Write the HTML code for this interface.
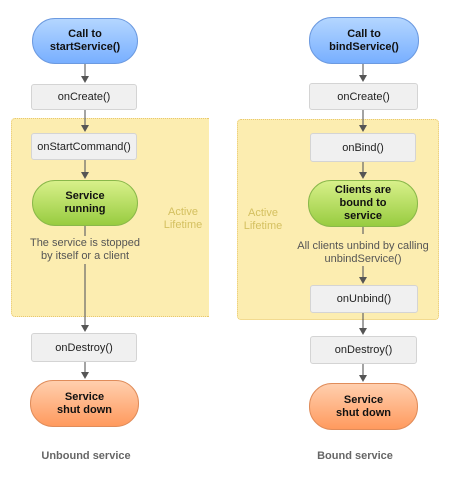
<!DOCTYPE html>
<html><head><style>
body{margin:0;width:452px;height:482px;background:#fff;position:relative;overflow:hidden;font-family:"Liberation Sans",sans-serif;}
.a{position:absolute;box-sizing:border-box;}
.box{background:#f0f0f0;border:1px solid #d4d4d4;border-radius:3px;font-size:11px;color:#222;display:flex;align-items:center;justify-content:center;}
.pill{border-radius:23px;font-size:11px;font-weight:bold;color:#111;display:flex;align-items:center;justify-content:center;text-align:center;line-height:13px;}
.blue{background:linear-gradient(#b4d6ff,#78afff);border:1px solid #6c9ae0;}
.green{background:linear-gradient(#d8f08a,#98cc40);border:1px solid #8ab84a;}
.orange{background:linear-gradient(#ffcfae,#ff9a5e);border:1px solid #e08c5a;}
.yel{background:#fcedb0;border:1px dotted #e8c870;border-radius:4px;}
.lbl{font-size:11px;color:#555;text-align:center;line-height:13px;}
.act{font-size:11px;color:#d4c060;text-align:center;line-height:13px;}
.cap{font-size:11px;font-weight:bold;color:#666;}
</style></head><body>
<div class="a yel" style="left:11px;top:118px;width:198px;height:199px;border-right:none;border-top-right-radius:0;border-bottom-right-radius:0"></div>
<div class="a yel" style="left:237px;top:119px;width:202px;height:201px"></div>
<svg class="a" style="left:0;top:0" width="452" height="482">
<defs><marker id="m" markerWidth="8" markerHeight="8" refX="4" refY="6" orient="auto" markerUnits="userSpaceOnUse"><path d="M0,0 L8,0 L4,7 z" transform="rotate(-90 4 4)" fill="#555"/></marker></defs>
<g stroke="#666" stroke-width="1.2" fill="#555">
<line x1="85" y1="64" x2="85" y2="78"/><path d="M81,76 L89,76 L85,83 z" stroke="none"/>
<line x1="85" y1="110" x2="85" y2="127"/><path d="M81,125 L89,125 L85,132 z" stroke="none"/>
<line x1="85" y1="160" x2="85" y2="174"/><path d="M81,172 L89,172 L85,179 z" stroke="none"/>
<line x1="85" y1="226" x2="85" y2="236"/>
<line x1="85" y1="264" x2="85" y2="327"/><path d="M81,325 L89,325 L85,332 z" stroke="none"/>
<line x1="85" y1="362" x2="85" y2="374"/><path d="M81,372 L89,372 L85,379 z" stroke="none"/>
<line x1="363" y1="64" x2="363" y2="77"/><path d="M359,75 L367,75 L363,82 z" stroke="none"/>
<line x1="363" y1="110" x2="363" y2="127"/><path d="M359,125 L367,125 L363,132 z" stroke="none"/>
<line x1="363" y1="162" x2="363" y2="174"/><path d="M359,172 L367,172 L363,179 z" stroke="none"/>
<line x1="363" y1="227" x2="363" y2="234"/>
<line x1="363" y1="266" x2="363" y2="279"/><path d="M359,277 L367,277 L363,284 z" stroke="none"/>
<line x1="363" y1="313" x2="363" y2="330"/><path d="M359,328 L367,328 L363,335 z" stroke="none"/>
<line x1="363" y1="364" x2="363" y2="377"/><path d="M359,375 L367,375 L363,382 z" stroke="none"/>
</g></svg>
<div class="a pill blue" style="left:32px;top:18px;width:106px;height:46px">Call to<br>startService()</div>
<div class="a box" style="left:31px;top:84px;width:106px;height:26px">onCreate()</div>
<div class="a box" style="left:31px;top:133px;width:106px;height:27px">onStartCommand()</div>
<div class="a pill green" style="left:32px;top:180px;width:106px;height:46px">Service<br>running</div>
<div class="a act" style="left:158px;top:206px;width:50px">Active<br>Lifetime</div>
<div class="a lbl" style="left:15px;top:237px;width:140px">The service is stopped<br>by itself or a client</div>
<div class="a box" style="left:31px;top:333px;width:106px;height:29px">onDestroy()</div>
<div class="a pill orange" style="left:30px;top:380px;width:109px;height:47px">Service<br>shut down</div>
<div class="a cap" style="left:36px;top:450px;width:100px;text-align:center">Unbound service</div>

<div class="a pill blue" style="left:309px;top:17px;width:110px;height:47px">Call to<br>bindService()</div>
<div class="a box" style="left:309px;top:83px;width:109px;height:27px">onCreate()</div>
<div class="a box" style="left:310px;top:133px;width:106px;height:29px">onBind()</div>
<div class="a pill green" style="left:308px;top:180px;width:110px;height:47px">Clients are<br>bound to<br>service</div>
<div class="a act" style="left:238px;top:207px;width:50px">Active<br>Lifetime</div>
<div class="a lbl" style="left:288px;top:240px;width:150px">All clients unbind by calling<br>unbindService()</div>
<div class="a box" style="left:310px;top:285px;width:108px;height:28px">onUnbind()</div>
<div class="a box" style="left:310px;top:336px;width:107px;height:28px">onDestroy()</div>
<div class="a pill orange" style="left:309px;top:383px;width:109px;height:47px">Service<br>shut down</div>
<div class="a cap" style="left:305px;top:450px;width:100px;text-align:center">Bound service</div>
</body></html>
